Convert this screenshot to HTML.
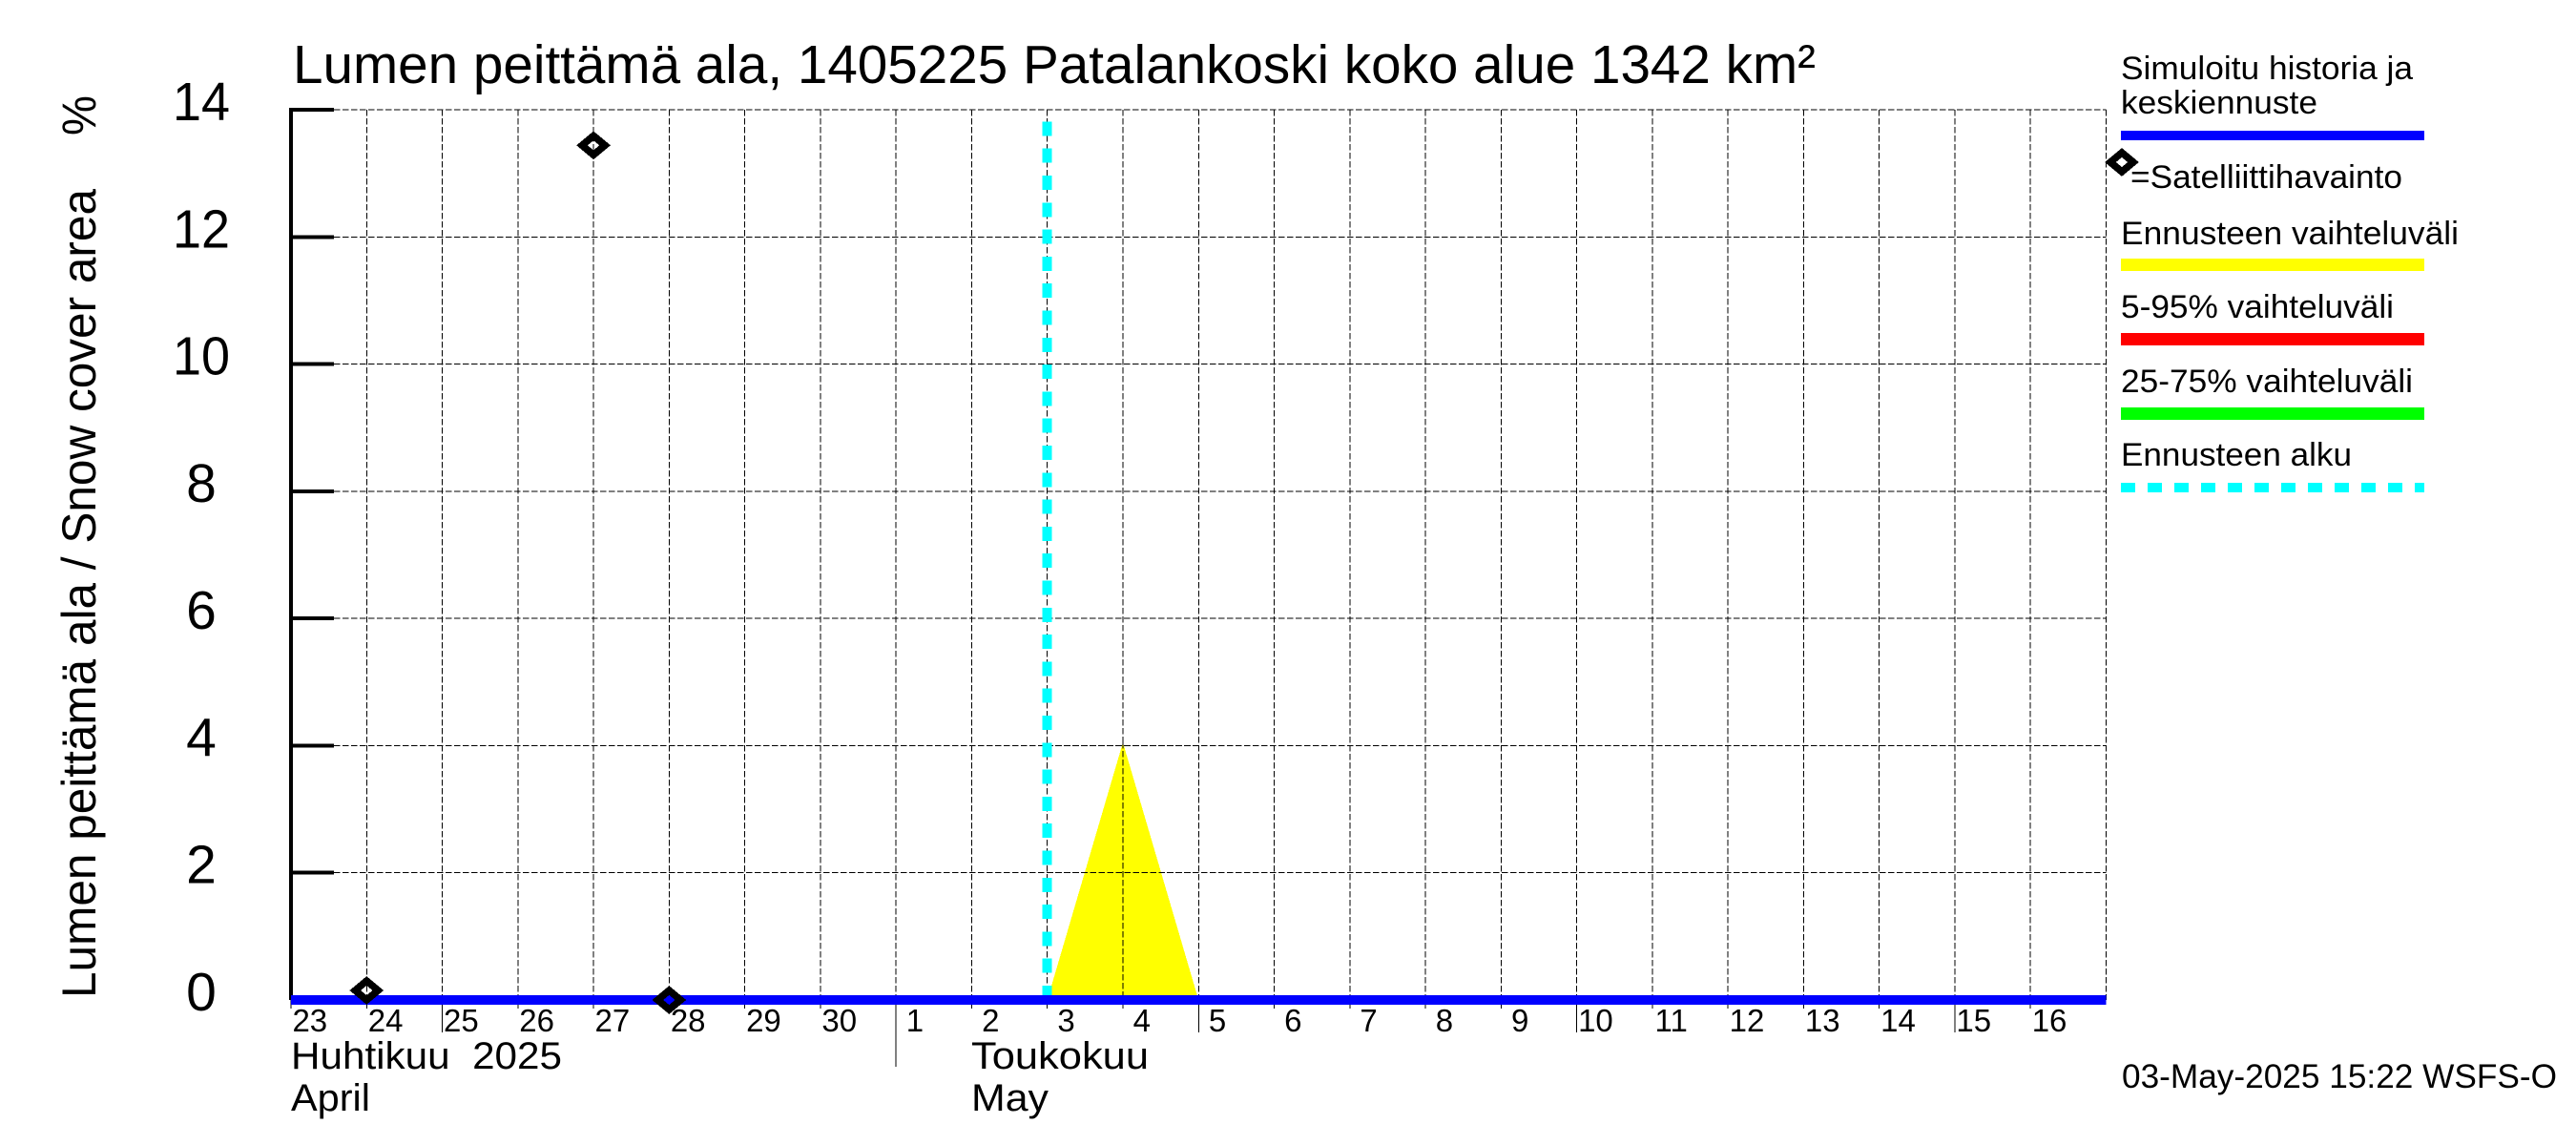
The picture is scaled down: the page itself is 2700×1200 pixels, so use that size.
<!DOCTYPE html>
<html lang="fi">
<head>
<meta charset="utf-8">
<title>Lumen peittämä ala</title>
<style>
html,body{margin:0;padding:0;background:#fff;}
svg{display:block;shape-rendering:crispEdges;}
text{font-family:"Liberation Sans",sans-serif;fill:#000;white-space:pre;}
</style>
</head>
<body>
<svg id="chart" xmlns="http://www.w3.org/2000/svg" width="2700" height="1200" viewBox="0 0 2700 1200">
  <rect x="0" y="0" width="2700" height="1200" fill="#fff"/>
  <g id="grid"></g>
  <g id="fan"></g>
  <g id="start"></g>
  <g id="axes"></g>
  <g id="series"></g>
  <g id="points"></g>

  <text x="307" y="87" font-size="57" textLength="1596" lengthAdjust="spacingAndGlyphs">Lumen peittämä ala, 1405225 Patalankoski koko alue 1342 km²</text>
  <text transform="translate(100,1046) rotate(-90)" font-size="50" textLength="848" lengthAdjust="spacingAndGlyphs">Lumen peittämä ala / Snow cover area</text>
  <text transform="translate(100,142) rotate(-90)" font-size="50" textLength="42" lengthAdjust="spacingAndGlyphs">%</text>

  <text x="305" y="1120" font-size="40" textLength="284" lengthAdjust="spacingAndGlyphs">Huhtikuu  2025</text>
  <text x="305" y="1164" font-size="40" textLength="83" lengthAdjust="spacingAndGlyphs">April</text>
  <text x="1018" y="1120" font-size="40" textLength="186" lengthAdjust="spacingAndGlyphs">Toukokuu</text>
  <text x="1018" y="1164" font-size="40" textLength="81" lengthAdjust="spacingAndGlyphs">May</text>

  <g>
    <text x="2223" y="83" font-size="34" textLength="306" lengthAdjust="spacingAndGlyphs">Simuloitu historia ja</text>
    <text x="2223" y="119" font-size="34" textLength="206" lengthAdjust="spacingAndGlyphs">keskiennuste</text>
    <rect x="2223" y="137" width="318" height="10" fill="#0000ff"/>
    <polygon points="2224,160 2236,170 2224,180 2212,170" fill="none" stroke="#000" stroke-width="7.5" stroke-linejoin="miter"/>
    <text x="2233" y="197" font-size="34" textLength="285" lengthAdjust="spacingAndGlyphs">=Satelliittihavainto</text>
    <text x="2223" y="256" font-size="34" textLength="354" lengthAdjust="spacingAndGlyphs">Ennusteen vaihteluväli</text>
    <rect x="2223" y="271" width="318" height="13" fill="#ffff00"/>
    <text x="2223" y="333" font-size="34" textLength="286" lengthAdjust="spacingAndGlyphs">5-95% vaihteluväli</text>
    <rect x="2223" y="349" width="318" height="13" fill="#ff0000"/>
    <text x="2223" y="411" font-size="34" textLength="306" lengthAdjust="spacingAndGlyphs">25-75% vaihteluväli</text>
    <rect x="2223" y="427" width="318" height="13" fill="#00ff00"/>
    <text x="2223" y="488" font-size="34" textLength="242" lengthAdjust="spacingAndGlyphs">Ennusteen alku</text>
    <line x1="2223" y1="511" x2="2541" y2="511" stroke="#00ffff" stroke-width="10" stroke-dasharray="15 13"/>
  </g>

  <text x="2224" y="1140" font-size="35" textLength="456" lengthAdjust="spacingAndGlyphs">03-May-2025 15:22 WSFS-O</text>
</svg>
<script>
// Chart data (day index 0 = 23 April 2025)
const dayLabels = [23,24,25,26,27,28,29,30,1,2,3,4,5,6,7,8,9,10,11,12,13,14,15,16];
const longTickLabels = [25,5,10,15];
const monthStartLabels = [1];
const yTickValues = [0,2,4,6,8,10,12,14];
const simulatedValues = [0,0,0,0,0,0,0,0,0,0,0,0,0,0,0,0,0,0,0,0,0,0,0,0,0];
const satelliteDays = [1,4,5];
const satelliteValues = [0.15,13.44,0];
const forecastDays = [10,11,12];
const forecastUpper = [0,4.05,0];
const forecastLower = [0,0,0];
const forecastStartDay = 10;
const yDomainMax = 14;
const dayDomainMax = 24;

const svgNS = 'http://www.w3.org/2000/svg';
const plotLeft = 305, plotRight = 2207.5, plotTop = 115, plotBottom = 1048;
const gridDash = '6.5 2.5';
function xScale(d){ return plotLeft + d * (plotRight - plotLeft) / dayDomainMax; }
function yScale(v){ return plotBottom - v * (plotBottom - plotTop) / yDomainMax; }
function make(tag, attrs, parent){
  const e = document.createElementNS(svgNS, tag);
  for (const k in attrs) e.setAttribute(k, attrs[k]);
  parent.appendChild(e);
  return e;
}
const gridG = document.getElementById('grid');
const axesG = document.getElementById('axes');

// horizontal grid + y ticks + labels
yTickValues.forEach(function(v){
  const y = yScale(v);
  if (v > 0) {
    const gl = make('line', {x1:plotLeft, y1:y, x2:plotRight, y2:y, stroke:'#000', 'stroke-width':1, 'stroke-dasharray':gridDash}, gridG);
    
    
  }
  const tk = make('line', {x1:plotLeft, y1:y, x2:350, y2:y, stroke:'#000', 'stroke-width':4}, axesG);
  
  
  const lb = make('text', {x:211, y:y + 11, 'font-size':57, 'text-anchor':'middle'}, axesG);
  if (v >= 10) {
    lb.setAttribute('textLength', '60');
    lb.setAttribute('lengthAdjust', 'spacingAndGlyphs');
  }
  
  
  lb.textContent = String(v);
});

// vertical grid
for (let d = 1; d <= dayDomainMax; d++) {
  const x = xScale(d);
  const vl = make('line', {x1:x, y1:plotTop, x2:x, y2:plotBottom, stroke:'#000', 'stroke-width':1, 'stroke-dasharray':gridDash}, gridG);
  
  
}

// y axis line
const yAxis = make('line', {x1:plotLeft, y1:plotTop - 2, x2:plotLeft, y2:plotBottom, stroke:'#000', 'stroke-width':4}, axesG);



// x ticks and labels
dayLabels.forEach(function(label, i){
  const x = xScale(i);
  let end = 1057;
  if (longTickLabels.indexOf(label) >= 0) end = 1082;
  if (monthStartLabels.indexOf(label) >= 0) end = 1118;
  const t = make('line', {x1:x, y1:plotBottom, x2:x, y2:end, stroke:'#000', 'stroke-width':1}, axesG);
  
  
  const lab = make('text', {x:xScale(i + 0.25), y:1081, 'font-size':33, 'text-anchor':'middle'}, axesG);
  
  
  lab.textContent = String(label);
});

// forecast range
const fanG = document.getElementById('fan');
const fanPts = [];
forecastDays.forEach(function(d, i){ fanPts.push(xScale(d) + ',' + yScale(forecastUpper[i])); });
for (let i = forecastDays.length - 1; i >= 0; i--) fanPts.push(xScale(forecastDays[i]) + ',' + yScale(forecastLower[i]));
const fan = make('polygon', {points:fanPts.join(' '), fill:'#ffff00'}, fanG);



// repaint gridlines over the yellow area
const fanPeak = Math.max.apply(null, forecastUpper);
forecastDays.forEach(function(d){
  const x = xScale(d);
  if (d === forecastStartDay || d === forecastDays[forecastDays.length - 1]) return;
  const o = make('line', {x1:x, y1:yScale(fanPeak), x2:x, y2:plotBottom, stroke:'#000', 'stroke-width':1, 'stroke-dasharray':gridDash}, fanG);
  
  
});
yTickValues.forEach(function(v){
  if (v <= 0 || v > fanPeak) return;
  const o = make('line', {x1:xScale(forecastDays[0]), y1:yScale(v), x2:xScale(forecastDays[forecastDays.length - 1]), y2:yScale(v), stroke:'#000', 'stroke-width':1, 'stroke-dasharray':gridDash}, fanG);
  
  
});

// forecast start line
const startLine = make('line', {x1:xScale(forecastStartDay), y1:plotBottom, x2:xScale(forecastStartDay), y2:127, stroke:'#00ffff', 'stroke-width':10, 'stroke-dasharray':'15 13.3'}, document.getElementById('start'));



// simulated history + forecast mean
const simPts = simulatedValues.map(function(v, i){ return xScale(i) + ',' + yScale(v); }).join(' ');
const sim = make('polyline', {points:simPts, fill:'none', stroke:'#0000ff', 'stroke-width':10}, document.getElementById('series'));



// satellite observations
satelliteDays.forEach(function(d, i){
  const cx = xScale(d), cy = yScale(satelliteValues[i]);
  const pts = [cx + ',' + (cy - 10), (cx + 12) + ',' + cy, cx + ',' + (cy + 10), (cx - 12) + ',' + cy].join(' ');
  const m = make('polygon', {points:pts, fill:'none', stroke:'#000', 'stroke-width':7.5, 'stroke-linejoin':'miter'}, document.getElementById('points'));
  
  
});
</script>
</body>
</html>
